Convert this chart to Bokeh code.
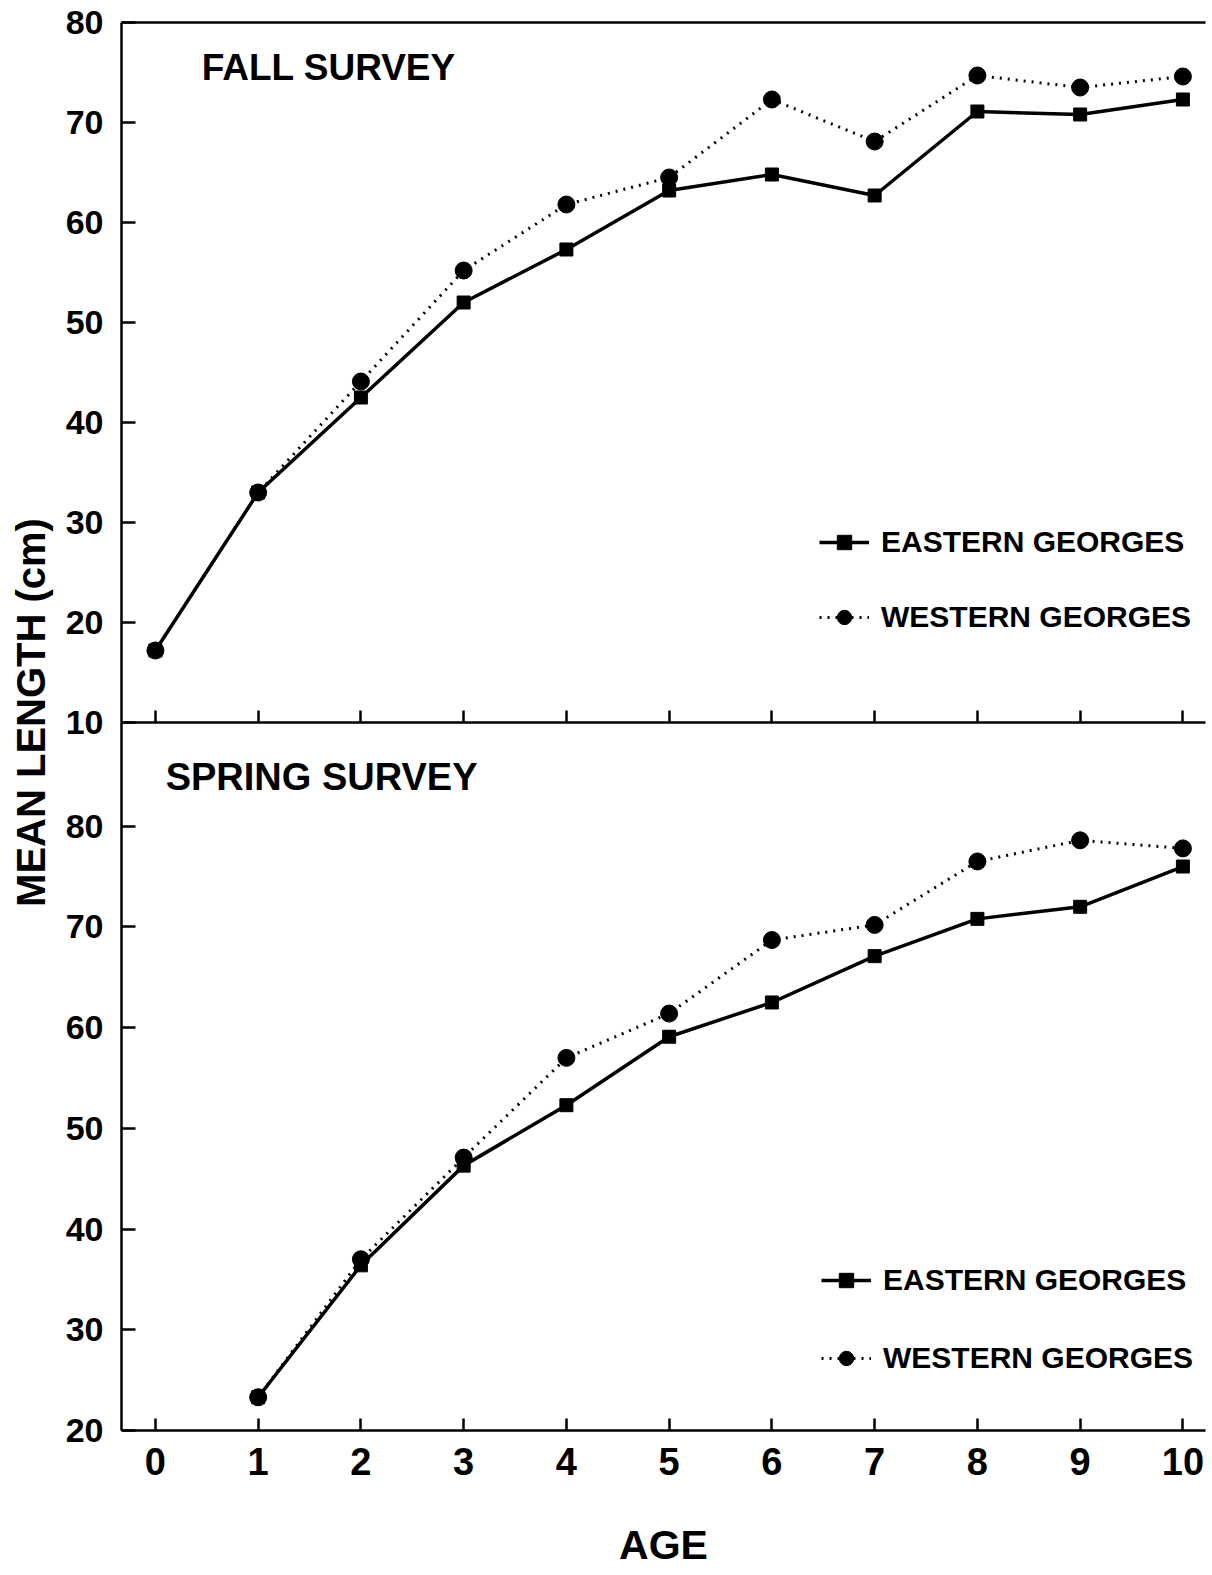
import math
from bokeh.plotting import figure
from bokeh.models import Range1d, FixedTicker, LinearAxis, Legend, LegendItem, Label
from bokeh.layouts import row, column
from bokeh.embed import file_html
from bokeh.resources import INLINE

# ---------------- data ----------------
fall_age = [0, 1, 2, 3, 4, 5, 6, 7, 8, 9, 10]
fall_eastern = [17.2, 33.0, 42.5, 52.0, 57.3, 63.2, 64.8, 62.7, 71.1, 70.8, 72.3]
fall_western = [17.2, 33.0, 44.1, 55.2, 61.8, 64.5, 72.3, 68.1, 74.7, 73.5, 74.6]

spring_age = [1, 2, 3, 4, 5, 6, 7, 8, 9, 10]
spring_eastern = [23.3, 36.4, 46.3, 52.3, 59.1, 62.5, 67.1, 70.8, 72.0, 76.0]
spring_western = [23.3, 37.0, 47.1, 57.0, 61.4, 68.7, 70.2, 76.5, 78.6, 77.8]

x_ticks = [0, 1, 2, 3, 4, 5, 6, 7, 8, 9, 10]
fall_y_ticks = [10, 20, 30, 40, 50, 60, 70, 80]
spring_y_ticks = [20, 30, 40, 50, 60, 70, 80]

series_labels = ["EASTERN GEORGES", "WESTERN GEORGES"]
panel_titles = ["FALL SURVEY", "SPRING SURVEY"]
y_title = "MEAN LENGTH (cm)"
x_title = "AGE"

FONT = "Liberation Sans"
Y_TICK_SIZE = "34px"
X_TICK_SIZE = "38px"
OVERLAP = 24
BOTTOM_BORDER = 142


def style_axes(p, yticks, show_xlabels):
    p.grid.visible = False
    p.outline_line_color = None
    for ax in p.yaxis:
        ax.ticker = FixedTicker(ticks=yticks)
        ax.major_tick_in = 14
        ax.major_tick_out = 0
        ax.minor_tick_in = 0
        ax.minor_tick_out = 0
        ax.axis_line_width = 2.5
        ax.major_tick_line_width = 2.5
        ax.major_label_text_font = FONT
        ax.major_label_text_font_style = "bold"
        ax.major_label_text_font_size = Y_TICK_SIZE
        ax.major_label_text_color = "black"
        ax.major_label_standoff = 18
    for ax in p.xaxis:
        ax.ticker = FixedTicker(ticks=x_ticks)
        ax.major_tick_in = 12
        ax.major_tick_out = 0
        ax.minor_tick_in = 0
        ax.minor_tick_out = 0
        ax.axis_line_width = 2.5
        ax.major_tick_line_width = 2.5
        ax.major_label_text_font = FONT
        ax.major_label_text_font_style = "bold"
        ax.major_label_text_color = "black"
        if show_xlabels:
            ax.major_label_text_font_size = X_TICK_SIZE
            ax.major_label_standoff = 17
        else:
            ax.major_label_overrides = {t: "" for t in x_ticks}
            ax.major_label_text_font_size = "1px"
            ax.major_label_standoff = 0


def add_series(p, ages, east, west, loc, spacing):
    le = p.line(ages, east, line_color="black", line_width=3.5)
    se = p.scatter(ages, east, marker="square", size=13, color="black")
    lw = p.line(ages, west, line_color="black", line_width=3, line_dash="2 6")
    sw = p.scatter(ages, west, marker="circle", size=17, color="black")
    legend = Legend(
        items=[LegendItem(label=series_labels[0], renderers=[le, se]),
               LegendItem(label=series_labels[1], renderers=[lw, sw])],
        location=loc,
        label_text_font=FONT,
        label_text_font_style="bold",
        label_text_font_size="30px",
        label_text_color="black",
        glyph_width=50,
        glyph_height=36,
        label_height=36,
        label_standoff=12,
        spacing=spacing,
        padding=0,
        margin=0,
        border_line_color=None,
        background_fill_alpha=0,
    )
    p.add_layout(legend)


x_range = Range1d(-0.33, 10.22)

# ---------------- top panel: fall ----------------
top = figure(width=1150, height=22 + 700 + OVERLAP, x_range=x_range, y_range=Range1d(10, 80),
             output_backend="svg", toolbar_location=None,
             min_border_left=63, min_border_right=3, min_border_top=22, min_border_bottom=OVERLAP)
style_axes(top, fall_y_ticks, False)
top_line = LinearAxis(ticker=FixedTicker(ticks=[]), major_tick_in=0, major_tick_out=0,
                      minor_tick_in=0, minor_tick_out=0, major_label_text_font_size="1px",
                      major_label_standoff=0, axis_line_width=2.5)
top.add_layout(top_line, "above")
add_series(top, fall_age, fall_eastern, fall_western, (698, 87), 39)
top.add_layout(Label(x=0.45, y=75.5, text=panel_titles[0], text_baseline="middle",
                     text_align="left", text_font=FONT, text_font_style="bold",
                     text_font_size="37px", text_color="black"))

# ---------------- bottom panel: spring ----------------
bottom = figure(width=1150, height=708 + BOTTOM_BORDER, x_range=x_range, y_range=Range1d(20, 90.3),
                output_backend="svg", toolbar_location=None,
                min_border_left=63, min_border_right=3, min_border_top=0,
                min_border_bottom=BOTTOM_BORDER,
                margin=(-OVERLAP, 0, 0, 0))
bottom.border_fill_alpha = 0
bottom.background_fill_alpha = 0
style_axes(bottom, spring_y_ticks, True)
bottom.xaxis.axis_label = x_title
bottom.xaxis.axis_label_text_font = FONT
bottom.xaxis.axis_label_text_font_style = "bold"
bottom.xaxis.axis_label_text_font_size = "41px"
bottom.xaxis.axis_label_text_color = "black"
bottom.xaxis.axis_label_standoff = 44
add_series(bottom, spring_age, spring_eastern, spring_western, (700, 54), 42)
bottom.add_layout(Label(x=0.1, y=84.9, text=panel_titles[1], text_baseline="middle",
                        text_align="left", text_font=FONT, text_font_style="bold",
                        text_font_size="38px", text_color="black"))

# ---------------- shared y label ----------------
H = 22 + 700 + 708 + BOTTOM_BORDER
lab = figure(width=58, height=H, x_range=Range1d(0, 58), y_range=Range1d(0, H),
             output_backend="svg", toolbar_location=None,
             x_axis_location=None, y_axis_location=None,
             min_border_left=0, min_border_right=0, min_border_top=0, min_border_bottom=0)
lab.grid.visible = False
lab.outline_line_color = None
lab.add_layout(Label(x=30, y=H - 712, text=y_title, angle=math.pi / 2,
                     text_align="center", text_baseline="middle", text_font=FONT,
                     text_font_style="bold", text_font_size="40px", text_color="black"))

layout = row(lab, column(top, bottom))
open("out.html", "w").write(file_html(layout, INLINE))
